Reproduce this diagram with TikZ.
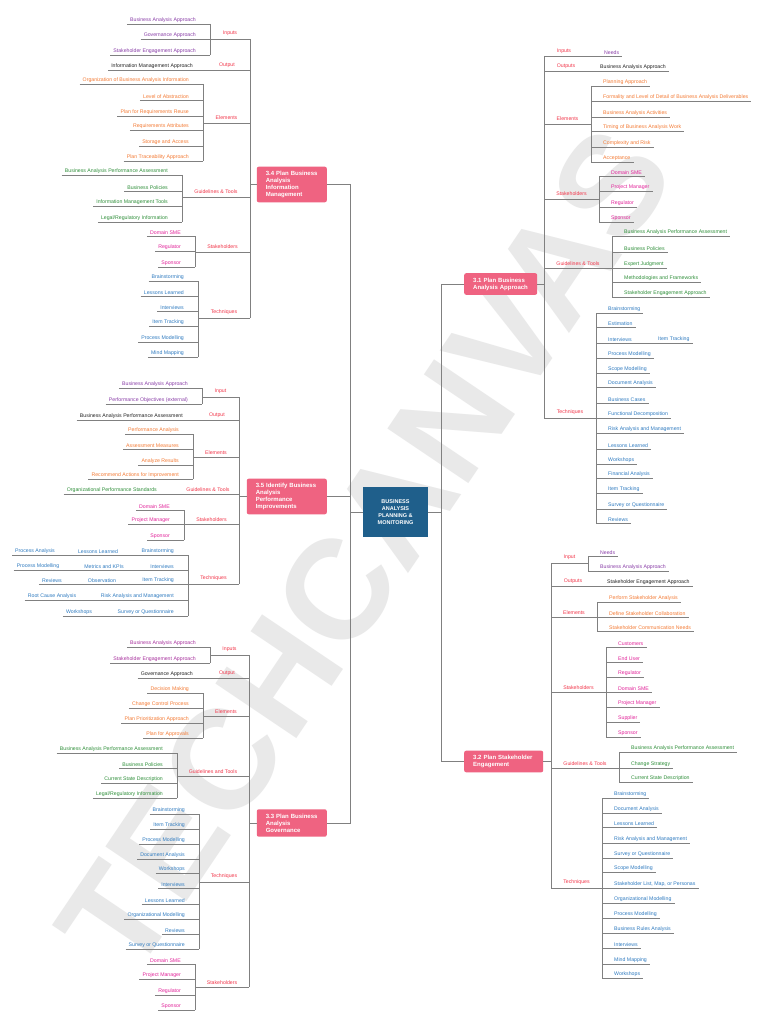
\documentclass[tikz,border=0pt]{standalone}
\usepackage{fontspec}
\setmainfont{Liberation Sans}
\usepackage{tikz}

\definecolor{catred}{HTML}{F2364A}
\definecolor{topicpink}{HTML}{EF6381}
\definecolor{hubblue}{HTML}{1F5F8B}
\definecolor{inpurple}{HTML}{8A3FA8}
\definecolor{inplum}{HTML}{A8329E}
\definecolor{outblack}{HTML}{222222}
\definecolor{elorange}{HTML}{F47B35}
\definecolor{gtgreen}{HTML}{2F8F3A}
\definecolor{skmagenta}{HTML}{E2249A}
\definecolor{tqblue}{HTML}{2F7BC0}
\definecolor{linegray}{HTML}{808080}
\definecolor{wmgray}{HTML}{E9E9E9}

\tikzset{
  branch/.style={draw=linegray, line width=0.9pt},
  leaf/.style={font=\fontsize{5.2}{6}\selectfont, inner xsep=3pt, inner ysep=1.5pt},
  leafL/.style={leaf, anchor=south east},
  leafR/.style={leaf, anchor=south west},
  cat/.style={font=\fontsize{5.2}{6}\selectfont, text=catred, anchor=south, inner xsep=0pt, inner ysep=2.5pt},
  topic/.style={fill=topicpink, rounded corners=2pt, text=white, font=\fontsize{6}{7}\selectfont\bfseries, align=left, inner xsep=9pt, inner ysep=4.5pt},
  hub/.style={fill=hubblue, text=white, font=\fontsize{5.5}{7}\selectfont\bfseries, align=center, minimum width=65pt, minimum height=50pt}
}

% left branch: prefix, bar x, trunk x, label, label y, colour, y/text list
\newcommand{\lbranch}[7]{%
  \foreach \yy/\txt [count=\i, remember=\yy as \py (initially #5)] in {#7}{
    \node[leafL, text=#6] (#1\i) at (#2-11,\yy) {\txt};
    \draw[branch] (#1\i.south west) -- (#2,\yy);
    \draw[branch] (#2,\py) -- (#2,\yy);
  }
  \draw[branch] (#2,#5) -- (#3,#5) node[cat, midway] (#1c) {#4};
}
% right branch: same arguments
\newcommand{\rbranch}[7]{%
  \foreach \yy/\txt [count=\i, remember=\yy as \py (initially #5)] in {#7}{
    \node[leafR, text=#6] (#1\i) at (#2+9,\yy) {\txt};
    \draw[branch] (#2,\yy) -- (#1\i.south east);
    \draw[branch] (#2,\py) -- (#2,\yy);
  }
  \draw[branch] (#3,#5) -- (#2,#5) node[cat, midway] (#1c) {#4};
}

\begin{document}
\begin{tikzpicture}[x=1pt, y=-1pt]
\fill[white] (0,0) rectangle (768,1024);
\useasboundingbox (0,0) rectangle (768,1024);

% watermark
\node[rotate=56, font=\fontsize{142}{142}\selectfont\bfseries, text=wmgray] (wm) at (365,550) {TECHCANVAS};

% hub and topics
\node[hub] (hub) at (395.5,512) {BUSINESS\\ANALYSIS\\PLANNING \&\\MONITORING};
\node[topic, anchor=east, text width=52pt] (p34) at (327,184.5) {3.4 Plan Business\\Analysis\\Information\\Management};
\node[topic, anchor=east, text width=62pt] (p35) at (327,496.5) {3.5 Identify Business\\Analysis\\Performance\\Improvements};
\node[topic, anchor=east, text width=52pt] (p33) at (327,823) {3.3 Plan Business\\Analysis\\Governance};
\node[topic, anchor=west, text width=55pt] (p31) at (464,284) {3.1 Plan Business\\Analysis Approach};
\node[topic, anchor=west, text width=61pt] (p32) at (464,761.5) {3.2 Plan Stakeholder\\Engagement};

\coordinate (ltr) at (350,512);
\coordinate (rtr) at (441,512);
\draw[branch] (hub.west) -- (ltr);
\draw[branch] (p34.east) -| (ltr);
\draw[branch] (p33.east) -| (ltr);
\draw[branch] (p35.east) -- (p35.east -| ltr);
\draw[branch] (hub.east) -- (rtr);
\draw[branch] (p31.west) -| (rtr);
\draw[branch] (p32.west) -| (rtr);

% 3.4
\coordinate (a0) at (250,39);
\coordinate (a1) at (250,318);
\draw[branch] (a0) -- (a1);
\draw[branch] (p34.west) -- (p34.west -| a0);
\lbranch{ai}{210}{250}{Inputs}{39}{inpurple}{24/Business Analysis Approach, 39/Governance Approach, 55/Stakeholder Engagement Approach}
\node[leafL, text=outblack] (ao1) at (196,70) {Information Management Approach};
\draw[branch] (ao1.south west) -- (ao1.south west -| a0);
\node[cat] (aoc) at (227,70) {Output};
\lbranch{ae}{203}{250}{Elements}{123}{elorange}{84/Organization of Business Analysis Information, 100/Level of Abstraction, 116/Plan for Requirements Reuse, 130/Requirements Attributes, 146/Storage and Access, 161/Plan Traceability Approach}
\lbranch{ag}{182}{250}{Guidelines \& Tools}{197}{gtgreen}{175/Business Analysis Performance Assessment, 191/Business Policies, 206/Information Management Tools, 222/{Legal/Regulatory Information}}
\lbranch{as}{195}{250}{Stakeholders}{252}{skmagenta}{236/Domain SME, 251/Regulator, 267/Sponsor}
\lbranch{at}{198}{250}{Techniques}{318}{tqblue}{281/Brainstorming, 296/Lessons Learned, 311/Interviews, 326/Item Tracking, 342/Process Modelling, 357/Mind Mapping}

% 3.5
\coordinate (b0) at (239,397);
\coordinate (b1) at (239,584);
\draw[branch] (b0) -- (b1);
\draw[branch] (p35.west) -- (p35.west -| b0);
\lbranch{bi}{202}{239}{Input}{397}{inpurple}{388/Business Analysis Approach, 404/Performance Objectives (external)}
\node[leafL, text=outblack] (bo1) at (186,420) {Business Analysis Performance Assessment};
\draw[branch] (bo1.south west) -- (bo1.south west -| b0);
\node[cat] (boc) at (217,420) {Output};
\lbranch{be}{193}{239}{Elements}{457}{elorange}{434/Performance Analysis, 449/Assessment Measures, 465/Analyze Results, 479/Recommend Actions for Improvement}
\node[leafL, text=gtgreen] (bg1) at (160,494) {Organizational Performance Standards};
\draw[branch] (bg1.south west) -- (bg1.south west -| b0);
\node[cat] (bgc) at (208,494) {Guidelines \& Tools};
\lbranch{bs}{184}{239}{Stakeholders}{524}{skmagenta}{510/Domain SME, 524/Project Manager, 540/Sponsor}
% techniques in rows
\node[leaf, anchor=south, text=tqblue] (bt1a) at (35,555) {Process Analysis};
\node[leaf, anchor=south, text=tqblue] (bt1b) at (98,555) {Lessons Learned};
\node[leafL, text=tqblue] (bt1c) at (177,555) {Brainstorming};
\node[leaf, anchor=south, text=tqblue] (bt2a) at (38,570) {Process Modelling};
\node[leaf, anchor=south, text=tqblue] (bt2b) at (104,570) {Metrics and KPIs};
\node[leafL, text=tqblue] (bt2c) at (177,570) {Interviews};
\node[leaf, anchor=south, text=tqblue] (bt3a) at (52,584) {Reviews};
\node[leaf, anchor=south, text=tqblue] (bt3b) at (102,584) {Observation};
\node[leafL, text=tqblue] (bt3c) at (177,584) {Item Tracking};
\node[leaf, anchor=south, text=tqblue] (bt4a) at (52,600) {Root Cause Analysis};
\node[leafL, text=tqblue] (bt4b) at (177,600) {Risk Analysis and Management};
\node[leaf, anchor=south, text=tqblue] (bt5a) at (79,616) {Workshops};
\node[leafL, text=tqblue] (bt5b) at (177,616) {Survey or Questionnaire};
\draw[branch] (bt1a.south west) -- (188,555);
\draw[branch] (bt2a.south west) -- (188,570);
\draw[branch] (bt3a.south west) -- (188,584);
\draw[branch] (bt4a.south west) -- (188,600);
\draw[branch] (bt5a.south west) -- (188,616);
\draw[branch] (188,555) -- (188,616);
\draw[branch] (188,584) -- (b1) node[cat, midway] (btc) {Techniques};

% 3.3
\coordinate (c0) at (249,655);
\coordinate (c1) at (249,987);
\draw[branch] (c0) -- (c1);
\draw[branch] (p33.west) -- (p33.west -| c0);
\lbranch{ci}{210}{249}{Inputs}{655}{inplum}{647/Business Analysis Approach, 663/Stakeholder Engagement Approach}
\node[leafL, text=outblack] (co1) at (196,678) {Governance Approach};
\draw[branch] (co1.south west) -- (co1.south west -| c0);
\node[cat] (coc) at (227,678) {Output};
\lbranch{ce}{203}{249}{Elements}{716}{elorange}{693/Decision Making, 708/Change Control Process, 723/Plan Prioritization Approach, 738/Plan for Approvals}
\lbranch{cg}{177}{249}{Guidelines and Tools}{776}{gtgreen}{753/Business Analysis Performance Assessment, 768/Business Policies, 783/Current State Description, 798/{Legal/Regulatory Information}}
\lbranch{ct}{199}{249}{Techniques}{882}{tqblue}{814/Brainstorming, 829/Item Tracking, 844/Process Modelling, 859/Document Analysis, 873/Workshops, 888/Interviews, 904/Lessons Learned, 919/Organizational Modelling, 934/Reviews, 949/Survey or Questionnaire}
\lbranch{cs}{195}{249}{Stakeholders}{987}{skmagenta}{964/Domain SME, 979/Project Manager, 995/Regulator, 1010/Sponsor}

% 3.1
\coordinate (d0) at (544,56);
\coordinate (d1) at (544,418);
\draw[branch] (d0) -- (d1);
\draw[branch] (p31.east) -- (p31.east -| d0);
\node[leafR, text=inpurple] (di1) at (601,56) {Needs};
\draw[branch] (d0) -- (di1.south east);
\node[cat] (dic) at (564,56) {Inputs};
\node[leafR, text=outblack] (do1) at (597,71) {Business Analysis Approach};
\draw[branch] (do1.south east) -- (do1.south east -| d0);
\node[cat] (doc) at (566,71) {Outputs};
\rbranch{de}{591}{544}{Elements}{124}{elorange}{86/Planning Approach, 101/Formality and Level of Detail of Business Analysis Deliverables, 117/Business Analysis Activities, 131/Timing of Business Analysis Work, 147/Complexity and Risk, 162/Acceptance}
\rbranch{ds}{599}{544}{Stakeholders}{199}{skmagenta}{176/Domain SME, 191/Project Manager, 207/Regulator, 222/Sponsor}
\rbranch{dg}{612}{544}{Guidelines \& Tools}{268}{gtgreen}{236/Business Analysis Performance Assessment, 252/Business Policies, 268/Expert Judgment, 282/Methodologies and Frameworks, 297/Stakeholder Engagement Approach}
\rbranch{dt}{596}{544}{Techniques}{418}{tqblue}{313/Brainstorming, 327/Estimation, 343/Interviews, 358/Process Modelling, 373/Scope Modelling, 387/Document Analysis, 403/Business Cases, 418/Functional Decomposition, 433/Risk Analysis and Management, 449/Lessons Learned, 464/Workshops, 478/Financial Analysis, 493/Item Tracking, 509/Survey or Questionnaire, 523/Reviews}
\node[leafR, text=tqblue] (dtx) at (655,343) {Item Tracking};
\draw[branch] (dt3.south east) -- (dtx.south east);

% 3.2
\coordinate (e0) at (551,563);
\coordinate (e1) at (551,888);
\draw[branch] (e0) -- (e1);
\draw[branch] (p32.east) -- (p32.east -| e0);
\rbranch{ei}{588}{551}{Input}{563}{inpurple}{556/Needs, 571/Business Analysis Approach}
\node[leafR, text=outblack] (eo1) at (604,586) {Stakeholder Engagement Approach};
\draw[branch] (eo1.south east) -- (eo1.south east -| e0);
\node[cat] (eoc) at (573,586) {Outputs};
\rbranch{ee}{597}{551}{Elements}{617}{elorange}{602/Perform Stakeholder Analysis, 617/Define Stakeholder Collaboration, 631/Stakeholder Communication Needs}
\rbranch{es}{606}{551}{Stakeholders}{692}{skmagenta}{647/Customers, 662/End User, 677/Regulator, 692/Domain SME, 707/Project Manager, 722/Supplier, 737/Sponsor}
\rbranch{eg}{619}{551}{Guidelines \& Tools}{768}{gtgreen}{752/Business Analysis Performance Assessment, 768/Change Strategy, 782/Current State Description}
\rbranch{et}{602}{551}{Techniques}{888}{tqblue}{798/Brainstorming, 813/Document Analysis, 827/Lessons Learned, 843/Risk Analysis and Management, 858/Survey or Questionnaire, 872/Scope Modelling, {888/Stakeholder List, Map, or Personas}, 903/Organizational Modelling, 918/Process Modelling, 933/Business Rules Analysis, 948/Interviews, 964/Mind Mapping, 978/Workshops}
\end{tikzpicture}
\end{document}
